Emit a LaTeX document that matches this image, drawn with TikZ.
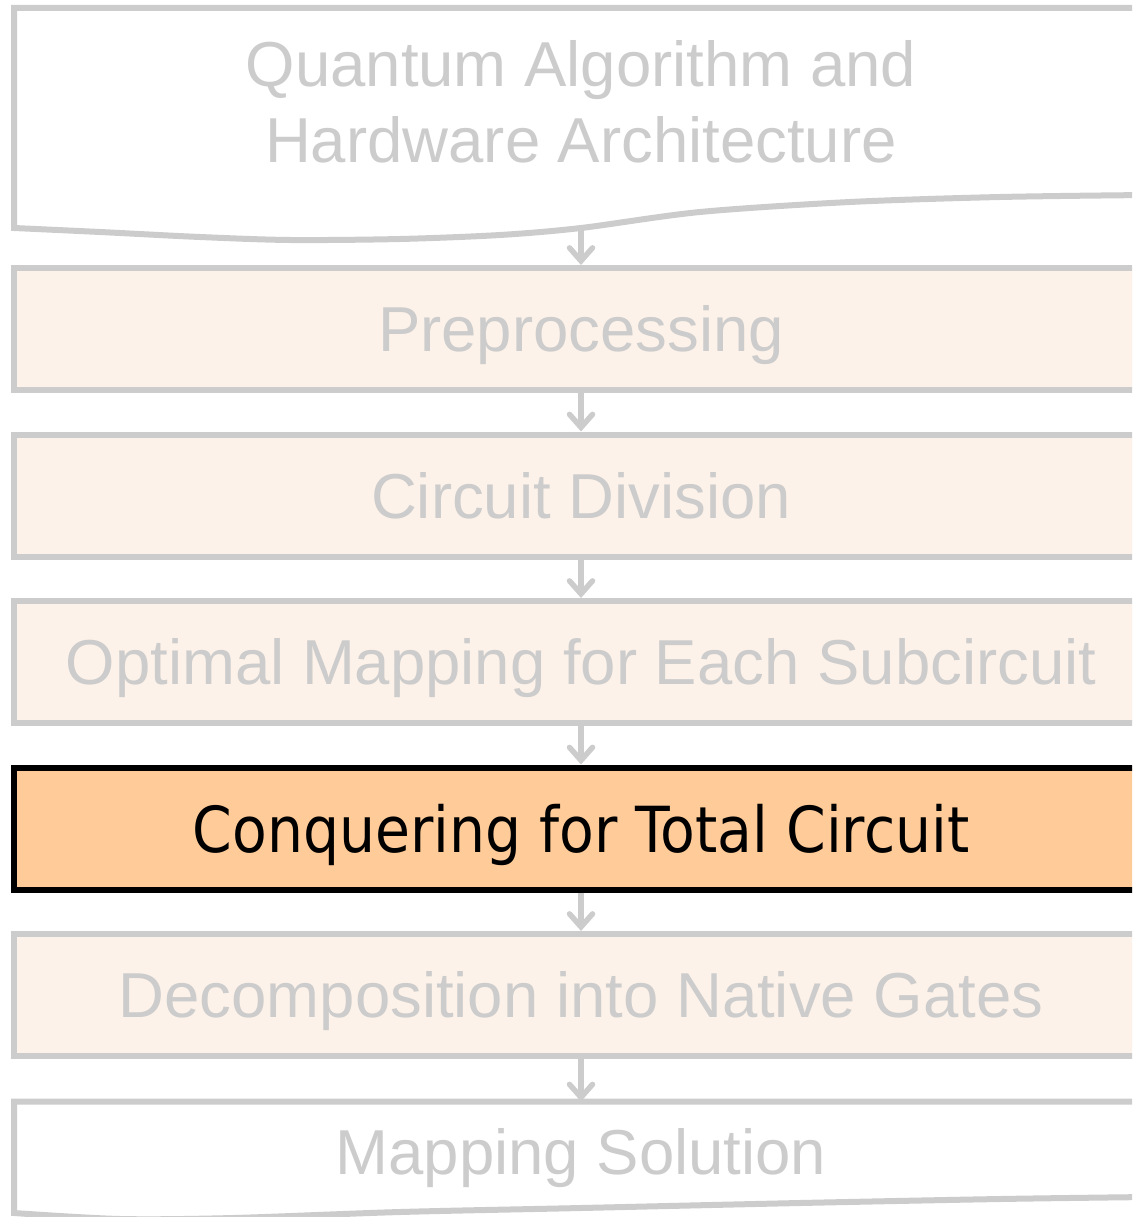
\documentclass[tikz,border=0pt]{standalone}
\usepackage{fontspec}
\setmainfont{Liberation Sans}
\newfontfamily\tahfont[FakeStretch=0.895]{DejaVu Sans}
\usetikzlibrary{arrows.meta}
\definecolor{lgray}{HTML}{CCCCCC}
\definecolor{lfill}{HTML}{FDF2E9}
\definecolor{cfill}{HTML}{FFCC99}
\tikzset{
  stage/.style={draw=lgray, line width=6pt, fill=lfill, minimum width=1134pt, minimum height=122pt,
    inner sep=0pt, text=lgray, font=\fontsize{63.5}{76}\selectfont},
  hot/.style={stage, draw=black, fill=cfill, text=black, font=\fontsize{63.5}{76}\selectfont\tahfont},
  docshape/.style={draw=lgray, line width=6pt, fill=white, line join=miter},
  doctext/.style={text=lgray, font=\fontsize{63.5}{76}\selectfont, inner sep=0pt, align=center},
  arr/.style={draw=lgray, line width=5.5pt, -{Straight Barb[length=13pt, width=23pt, line width=5.5pt, line cap=round]}}
}
\begin{document}
\begin{tikzpicture}[x=1pt, y=-1pt]
\useasboundingbox (0,0) rectangle (1132,1217);
\clip (0,0) rectangle (1132,1217);
% input document shape
\draw[docshape] (14,228) -- (14,8) -- (1148,8) -- (1148,195) -- plot[smooth] coordinates
  {(1148,195) (1000,197) (850,202) (700,212) (581,228) (500,235) (400,239) (290,240) (200,237) (100,232) (14,228)} -- cycle;
\node[doctext, anchor=base] (inp) at (581,163) {Quantum Algorithm and\\Hardware Architecture};
\coordinate (inpb) at (581,228);
% stages
\node[stage] (pre) at (581,329) {};
\node[stage] (div) at (581,495.5) {};
\node[stage] (opt) at (581,662) {};
\node[hot]   (con) at (581,828.5) {};
\node[stage] (dec) at (581,995) {};
\node[text=lgray, font=\fontsize{63.5}{76}\selectfont, anchor=base, inner sep=0pt] (preT) at (581,351.7) {Preprocessing};
\node[text=lgray, font=\fontsize{63.5}{76}\selectfont, anchor=base, inner sep=0pt] (divT) at (581,518.2) {Circuit Division};
\node[text=lgray, font=\fontsize{63.5}{76}\selectfont, anchor=base, inner sep=0pt] (optT) at (581,684.7) {Optimal Mapping for Each Subcircuit};
\node[text=black, font=\fontsize{63.5}{76}\selectfont\tahfont, anchor=base, inner sep=0pt] (conT) at (581,852.5) {Conquering for Total Circuit};
\node[text=lgray, font=\fontsize{63.5}{76}\selectfont, anchor=base, inner sep=0pt] (decT) at (581,1017.7) {Decomposition into Native Gates};
% output document shape
\draw[docshape] (14,1213) -- (14,1101.5) -- (1148,1101.5) -- (1148,1197) -- plot[smooth] coordinates
  {(1148,1197) (1000,1199) (800,1203) (581,1208) (400,1212) (233,1218) (120,1219) (14,1213)} -- cycle;
\node[doctext, anchor=base] (out) at (581,1174) {Mapping Solution};
% connectors
\draw[arr] (inpb) -- (pre.north);
\draw[arr] (pre.south) -- (div.north);
\draw[arr] (div.south) -- (opt.north);
\draw[arr] (opt.south) -- (con.north);
\draw[arr] (con.south) -- (dec.north);
\draw[arr] (dec.south) -- (out.north |- 0,1101.5);
\end{tikzpicture}
\end{document}
